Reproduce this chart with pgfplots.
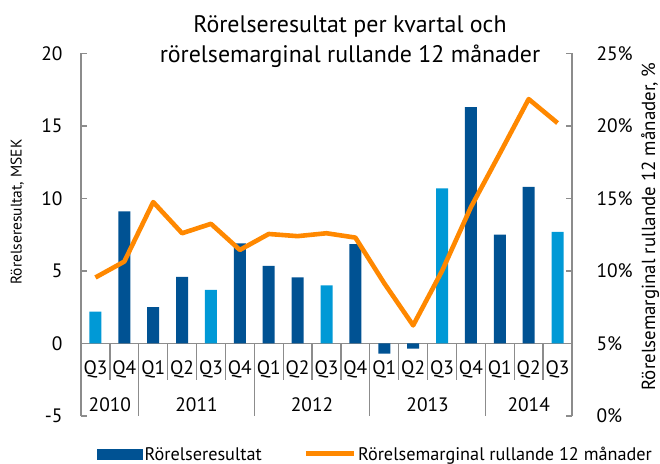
\documentclass[border=0pt]{standalone}
\usepackage{fontspec}
\setmainfont{PT Sans}
\usepackage{pgfplots}
\pgfplotsset{compat=1.18}
\definecolor{darkblue}{RGB}{0,82,147}
\definecolor{lightblue}{RGB}{0,153,214}
\definecolor{lineorange}{RGB}{255,136,0}
\definecolor{axisgray}{RGB}{140,140,140}

\pgfplotsset{
  common/.style={
    scale only axis, width=491bp, height=362.6bp,
    at={(81bp,48bp)}, anchor=south west,
    xmin=-0.5, xmax=16.5,
    /pgf/number format/assume math mode=true,
    tick label style={font=\fontsize{19.5}{21}\selectfont, text=black},
    axis line style={axisgray, line width=1.3bp},
    tick style={axisgray, line width=1.3bp},
    major tick length=6bp,
    tick align=inside,
    clip=false,
  }
}

\begin{document}
\begin{tikzpicture}
\useasboundingbox (0bp,0bp) rectangle (660bp,464bp);

\begin{axis}[common,
  ymin=-5, ymax=20, ytick={-5,0,5,10,15,20},
  axis y line*=left, axis x line*=middle,
  hide obscured x ticks=false, hide obscured y ticks=false,
  xtick={0,...,16},
  xticklabels={Q3,Q4,Q1,Q2,Q3,Q4,Q1,Q2,Q3,Q4,Q1,Q2,Q3,Q4,Q1,Q2,Q3},
  xtick style={draw=none},
  xticklabel style={yshift=-8bp},
  yticklabel style={xshift=-15bp},
  ybar, bar width=12bp, bar shift=0pt,
  ylabel={Rörelseresultat, MSEK},
  ylabel style={font=\fontsize{15.5}{17}\selectfont, at={(axis description cs:-0.130,0.5626)}, anchor=center, rotate=0},
]
% Q3 bars (light)
\addplot[fill=lightblue, draw=none] coordinates
  {(0,2.2) (4,3.7) (8,4.0) (12,10.7) (16,7.7)};
% other quarters (dark)
\addplot[fill=darkblue, draw=none] coordinates
  {(1,9.1) (2,2.5) (3,4.6) (5,6.9) (6,5.35) (7,4.55) (9,6.85)
   (10,-0.7) (11,-0.35) (13,16.3) (14,7.5) (15,10.8)};
% category separators
\pgfplotsinvokeforeach{0.5,2.5,3.5,4.5,6.5,7.5,8.5,10.5,11.5,12.5,14.5,15.5}{
  \draw[axisgray, line width=1.3bp] (axis cs:#1,0) -- (axis cs:#1,-2.5);}
\pgfplotsinvokeforeach{1.5,5.5,9.5,13.5}{
  \draw[axisgray, line width=1.3bp] (axis cs:#1,0) -- (axis cs:#1,-5);}
\node[font=\fontsize{19.5}{21}\selectfont] at (axis cs:0.5,-4.2) {2010};
\node[font=\fontsize{19.5}{21}\selectfont] at (axis cs:3.5,-4.2) {2011};
\node[font=\fontsize{19.5}{21}\selectfont] at (axis cs:7.5,-4.2) {2012};
\node[font=\fontsize{19.5}{21}\selectfont] at (axis cs:11.5,-4.2) {2013};
\node[font=\fontsize{19.5}{21}\selectfont] at (axis cs:15,-4.2) {2014};
\end{axis}

\begin{axis}[common,
  ymin=0, ymax=25, ytick={0,5,...,25},
  axis y line*=right, axis x line=none,
  yticklabel={\pgfmathprintnumber{\tick}\%},
  yticklabel style={xshift=21bp},
  ylabel={Rörelsemarginal rullande 12 månader, \%},
  ylabel style={font=\fontsize{19}{21}\selectfont, at={(axis description cs:1.159,0.5226)}, anchor=center, rotate=0},
  legend columns=2,
  legend style={draw=none, fill=none, at={(0.0265,-0.1380)}, anchor=south west,
    font=\fontsize{18.3}{20}\selectfont,
    /tikz/every even column/.append style={column sep=40bp}},
]
\addlegendimage{legend image code/.code={\fill[darkblue] (0bp,-5bp) rectangle (45bp,5bp);}}
\addlegendentry{Rörelseresultat}
\addplot[lineorange, line width=4.6bp, line join=round,
  legend image code/.code={\draw[lineorange, line width=4.3bp] (0bp,1bp) -- (48bp,1bp);}]
  coordinates {(0,9.55) (1,10.65) (2,14.75) (3,12.6) (4,13.25) (5,11.45)
   (6,12.55) (7,12.4) (8,12.6) (9,12.3) (10,9.15) (11,6.25) (12,10.0)
   (13,14.4) (14,18.1) (15,21.85) (16,20.2)};
\addlegendentry{Rörelsemarginal rullande 12 månader}
\end{axis}

\node[font=\fontsize{24}{27}\selectfont, anchor=base] at (350bp,431bp) {Rörelseresultat per kvartal och};
\node[font=\fontsize{24}{27}\selectfont, anchor=base] at (350bp,401bp) {rörelsemarginal rullande 12 månader};
\end{tikzpicture}
\end{document}
